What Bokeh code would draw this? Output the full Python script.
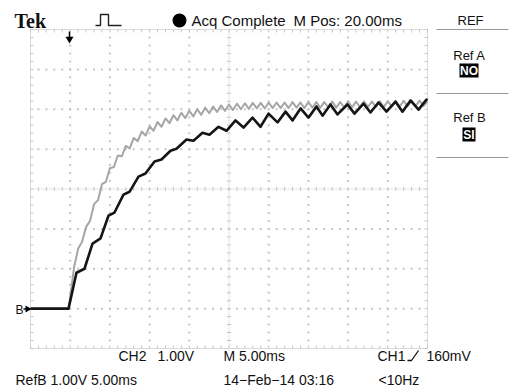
from bokeh.plotting import figure
from bokeh.models import Range1d
from bokeh.core.properties import value
from bokeh.embed import file_html
from bokeh.resources import INLINE

# ---- data (time in ms, voltage in V; RefB ground = 0 V) ----
black_t = [0.0, 4.79, 5.79, 6.80, 7.81, 8.82, 9.82, 10.58, 11.71, 12.47, 13.60, 14.48,
           15.62, 16.50, 17.63, 18.39, 19.65, 20.53, 21.66, 22.54, 23.68, 24.69, 25.82,
           26.83, 27.96, 28.97, 29.98, 31.11, 32.12, 33.00, 34.01, 35.01, 36.02, 36.78,
           37.78, 38.67, 39.92, 40.81, 41.94, 42.82, 43.83, 44.84, 45.97, 46.85, 47.86,
           48.87, 49.87, 50.0]
black_v = [0.0, 0.0, 0.90, 1.00, 1.63, 1.76, 2.33, 2.41, 2.86, 2.93, 3.31, 3.39,
           3.69, 3.74, 3.96, 4.01, 4.24, 4.21, 4.41, 4.36, 4.56, 4.46, 4.72,
           4.54, 4.79, 4.56, 4.89, 4.67, 4.94, 4.72, 5.02, 4.79, 5.07, 4.84,
           5.12, 4.87, 5.12, 4.89, 5.14, 4.92, 5.17, 4.94, 5.19, 4.94, 5.22,
           4.99, 5.24, 5.22]

gray_t = [0.0, 4.8, 5.5, 6.0, 6.5, 7.0, 7.5, 8.0, 8.5, 9.0, 9.5, 10.0, 10.5, 11.0, 11.5,
          12.0, 12.5, 13.0, 13.5, 14.0, 14.5, 15.0, 15.5, 16.0, 16.5, 17.0, 17.5, 18.0,
          18.5, 19.0, 19.5, 20.0, 20.5, 21.0, 21.5, 22.0, 22.5, 23.0, 23.5, 24.0, 24.5,
          25.0, 25.5, 26.0, 26.5, 27.0, 27.5, 28.0, 28.5, 29.0, 29.5, 30.0, 30.5, 31.0,
          31.5, 32.0, 32.5, 33.0, 33.5, 34.0, 34.5, 35.0, 35.5, 36.0, 36.5, 37.0, 37.5,
          38.0, 38.5, 39.0, 39.5, 40.0, 40.5, 41.0, 41.5, 42.0, 42.5, 43.0, 43.5, 44.0,
          44.5, 45.0, 45.5, 46.0, 46.5, 47.0, 47.5, 48.0, 48.5, 49.0, 49.5, 50.0]
gray_v = [0.0, 0.0, 1.05, 1.50, 1.68, 2.05, 2.20, 2.62, 2.72, 3.12, 3.18, 3.52, 3.55, 3.84, 3.82,
          4.08, 4.02, 4.28, 4.20, 4.44, 4.34, 4.57, 4.46, 4.68, 4.56, 4.77, 4.65, 4.85,
          4.72, 4.91, 4.78, 4.96, 4.82, 5.00, 4.86, 5.04, 4.90, 5.07, 4.93, 5.10, 4.96,
          5.12, 4.98, 5.14, 5.00, 5.15, 5.01, 5.16, 5.02, 5.16, 5.02, 5.17, 5.03, 5.17,
          5.03, 5.17, 5.03, 5.18, 5.04, 5.17, 5.03, 5.18, 5.04, 5.18, 5.04, 5.18, 5.05,
          5.19, 5.04, 5.18, 5.05, 5.19, 5.05, 5.19, 5.05, 5.20, 5.06, 5.19, 5.06, 5.20,
          5.06, 5.20, 5.07, 5.21, 5.07, 5.21, 5.07, 5.21, 5.08, 5.22, 5.08, 5.20]

# graticule: 10 x 8 divisions, 5 ms/div and 1 V/div
T_DIV, V_DIV = 5.0, 1.0
T_MIN, T_MAX = 0.0, 50.0
V_MIN, V_MAX = -1.0, 7.0

# ---- pixel helpers for decorations (graticule occupies x 30..427, y 29..348) ----
KX = (T_MAX - T_MIN) / 397.0
KY = (V_MAX - V_MIN) / 319.0
def tx(px):
    return T_MIN + (px - 30) * KX
def vy(py):
    return V_MIN + (348 - py) * KY

p = figure(width=510, height=390, x_range=Range1d(tx(0), tx(510)),
           y_range=Range1d(vy(390), vy(0)), toolbar_location=None,
           output_backend="svg", x_axis_location=None, y_axis_location=None,
           min_border=0)
p.min_border_left = p.min_border_right = p.min_border_top = p.min_border_bottom = 0
p.grid.visible = False
p.outline_line_color = None
p.background_fill_color = "white"
p.border_fill_color = "white"

GRID = "#c6c6c6"
minor_t = [T_MIN + i * T_DIV / 5 for i in range(51)]
minor_v = [V_MIN + i * V_DIV / 5 for i in range(41)]
major_t = [T_MIN + i * T_DIV for i in range(11)]
major_v = [V_MIN + i * V_DIV for i in range(9)]
tc = (T_MIN + T_MAX) / 2
vc = (V_MIN + V_MAX) / 2

# dotted major grid
dx, dy = [], []
for t in major_t[1:-1]:
    if abs(t - tc) < 1e-9:
        continue
    for v in minor_v[1:-1]:
        dx.append(t); dy.append(v)
for v in major_v[1:-1]:
    if abs(v - vc) < 1e-9:
        continue
    for t in minor_t[1:-1]:
        dx.append(t); dy.append(v)
p.scatter(dx, dy, marker="square", size=2, fill_color=GRID, line_color=None)

# centre cross with ticks
p.segment(x0=[tc], y0=[V_MIN], x1=[tc], y1=[V_MAX], line_color="#e4e4e4", line_width=1)
p.segment(x0=[T_MIN], y0=[vc], x1=[T_MAX], y1=[vc], line_color="#e4e4e4", line_width=1)
hx = 2 * KX
hy = 2 * KY
p.segment(x0=minor_t, y0=[vc - hy] * 51, x1=minor_t, y1=[vc + hy] * 51,
          line_color=GRID, line_width=1)
p.segment(x0=[tc - hx] * 41, y0=minor_v, x1=[tc + hx] * 41, y1=minor_v,
          line_color=GRID, line_width=1)

# border with inward ticks
p.segment(x0=[T_MIN, T_MIN, T_MIN, T_MAX], y0=[V_MIN, V_MAX, V_MIN, V_MIN],
          x1=[T_MAX, T_MAX, T_MIN, T_MAX], y1=[V_MIN, V_MAX, V_MAX, V_MAX],
          line_color="#dadada", line_width=1)
L = 3
p.segment(x0=minor_t, y0=[V_MIN] * 51, x1=minor_t, y1=[V_MIN + L * KY] * 51, line_color=GRID)
p.segment(x0=minor_t, y0=[V_MAX] * 51, x1=minor_t, y1=[V_MAX - L * KY] * 51, line_color=GRID)
p.segment(x0=[T_MIN] * 41, y0=minor_v, x1=[T_MIN + L * KX] * 41, y1=minor_v, line_color=GRID)
p.segment(x0=[T_MAX] * 41, y0=minor_v, x1=[T_MAX - L * KX] * 41, y1=minor_v, line_color=GRID)

# traces
p.line(gray_t, gray_v, line_color="#a6a6a6", line_width=2, line_join="round")
p.line(black_t, black_v, line_color="#151515", line_width=2.6, line_join="round")

# ---- decorations ----
SANS = value("Liberation Sans")
def txt(s, x, y, size, align="left", font=SANS, style="normal", color="#111111"):
    p.text(x=[tx(x)], y=[vy(y)], text=[s], text_font=font, text_font_size=f"{size}px",
           text_align=align, text_baseline="middle", text_color=color,
           text_font_style=style)

txt("Tek", 14, 20, 20, font=value("Liberation Serif"), style="bold")
# pulse icon
p.line([tx(95), tx(100), tx(100), tx(108), tx(108), tx(121)],
       [vy(25), vy(25), vy(14), vy(14), vy(25), vy(25)], line_color="#222222", line_width=1.4)
p.scatter([tx(179)], [vy(20)], size=14, marker="circle", fill_color="black", line_color=None)
txt("Acq Complete", 191, 19.5, 15)
txt("M Pos: 20.00ms", 293, 19.5, 15)
txt("REF", 470, 19.5, 13, align="center")

# right menu
for yy in (29, 93, 157):
    p.segment(x0=[tx(436)], y0=[vy(yy)], x1=[tx(508)], y1=[vy(yy)], line_color="#9a9a9a", line_width=1.2)
txt("Ref A", 469, 54.5, 13, align="center")
txt("Ref B", 469, 117, 13, align="center")
p.quad(left=[tx(459)], right=[tx(478)], top=[vy(63)], bottom=[vy(77)], fill_color="black", line_color=None)
txt("NO", 468.5, 70, 12, align="center", color="white", style="bold")
p.quad(left=[tx(462)], right=[tx(475)], top=[vy(127)], bottom=[vy(141)], fill_color="black", line_color=None)
txt("SI", 468.5, 134, 12, align="center", color="white", style="bold")

# trigger position marker (top) and RefB ground marker (left)
p.segment(x0=[tx(69)], y0=[vy(31)], x1=[tx(69)], y1=[vy(38)], line_color="black", line_width=1.5)
p.scatter([tx(69)], [vy(38.5)], marker="inverted_triangle", size=8, fill_color="black", line_color=None)
txt("B", 15, 309, 12)
p.segment(x0=[tx(23)], y0=[vy(308.5)], x1=[tx(28)], y1=[vy(308.5)], line_color="black", line_width=1.5)
p.scatter([tx(27)], [vy(308.5)], marker="triangle", angle=-1.5708, size=7, fill_color="black", line_color=None)

# bottom status lines
txt("CH2", 118, 355, 14)
txt("1.00V", 157, 355, 14)
txt("M 5.00ms", 223, 355, 14)
txt("CH1", 377, 355, 14)
p.line([tx(407), tx(411), tx(418)], [vy(360), vy(360), vy(350)], line_color="#111111", line_width=1.3)
txt("160mV", 426, 355, 14)
txt("RefB 1.00V 5.00ms", 15, 379, 14)
txt("14\u2212Feb\u221214 03:16", 223, 379, 14)
txt("<10Hz", 378, 379, 14)

open("out.html", "w").write(file_html(p, INLINE))
